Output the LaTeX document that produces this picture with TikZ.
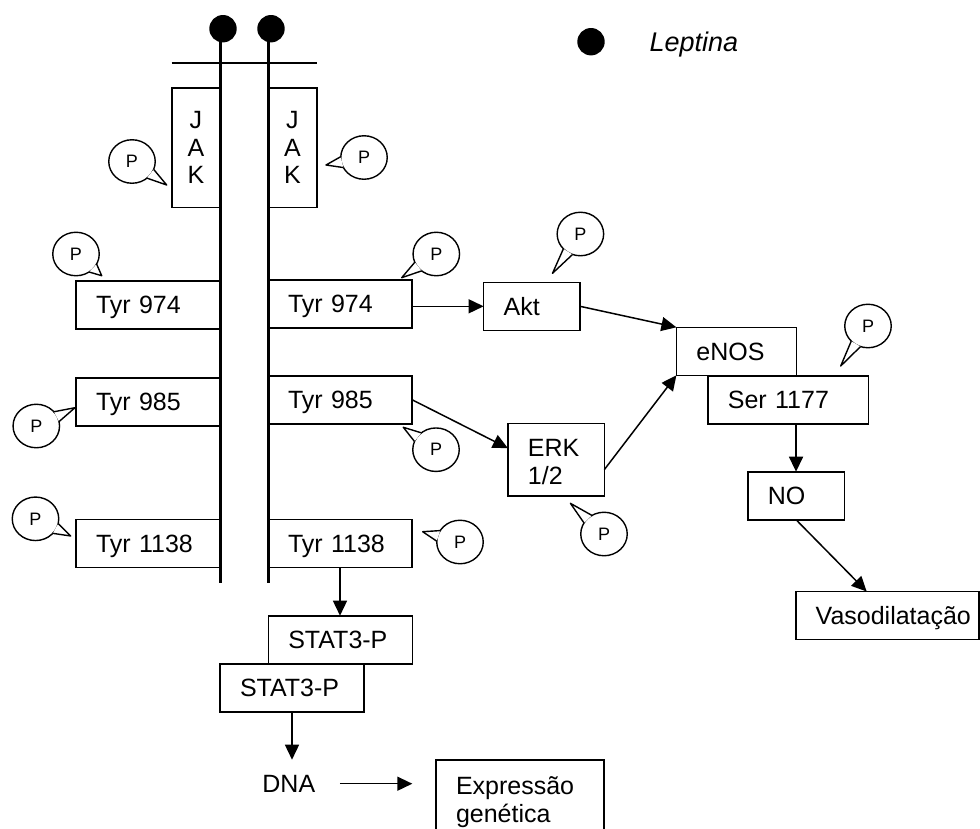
\documentclass[tikz,border=0pt]{standalone}
\usepackage{fontspec}
\setmainfont{Liberation Sans}
\usetikzlibrary{arrows.meta,calc,shapes.geometric}

% speech bubble with a P: name, centre, tip of the tail
\newcommand{\pbub}[3]{%
  \node[pbubble] (#1) at (#2) {P};
  \path let \p1=($(#3)-(#1.center)$), \n1={atan2(\y1,\x1)},
    \n2={\n1+14}, \n3={\n1-14} in
    coordinate (#1-a) at (#1.\n2) coordinate (#1-b) at (#1.\n3);
  \fill[white] (#1-a) -- (#3) -- (#1-b) -- cycle;
  \draw[line width=1.4pt, line join=round] (#1-a) -- (#3) -- (#1-b);}

\begin{document}
\begin{tikzpicture}[x=1pt, y=-1pt,
  box/.style={draw, line width=1.6pt, anchor=north west, inner xsep=20pt,
    inner ysep=0pt, outer sep=0pt, align=left, text depth=0pt,
    minimum height=48pt, font=\fontsize{25}{27.5}\selectfont},
  tyrbox/.style={box, minimum width=144pt, text width=104pt},
  jakbox/.style={draw, line width=1.6pt, anchor=north west, inner sep=0pt,
    outer sep=0pt, align=center, minimum width=48.3pt, minimum height=119.6pt,
    font=\fontsize{25}{27.5}\selectfont},
  pbubble/.style={ellipse, draw, fill=white, line width=1.4pt, inner sep=0pt,
    outer sep=0pt, minimum width=46.5pt, minimum height=43.5pt,
    font=\fontsize{18}{18}\selectfont},
  leptin/.style={circle, fill=black, inner sep=0pt, minimum size=27.4pt},
  membrane/.style={line width=2.2pt},
  arr/.style={line width=1.5pt, -{Triangle[length=15pt,width=14pt]}}]
  \useasboundingbox (0,0) rectangle (980,828);
  \clip (0,0) rectangle (980,828);
  % receptor chains and membrane
  \draw[membrane] (171.7,63.3) -- (316.7,63.3);
  \draw[membrane] (220.5,35) -- (220.5,583.3);
  \draw[membrane] (268.5,35) -- (268.5,583.3);
  \node[leptin] (lepL) at (223,28.7) {};
  \node[leptin] (lepR) at (271,28.7) {};
  % legend
  \node[leptin] (legdot) at (591,41.7) {};
  \node[anchor=base west, inner sep=0pt, font=\fontsize{27}{27}\itshape]
    (legtxt) at (649.3,51.7) {Leptina};
  % JAK
  \node[jakbox] (jakL) at (171.7,87.7) {J\\A\\K};
  \node[jakbox, minimum width=48.7pt] (jakR) at (268,87.7) {J\\A\\K};
  % tyrosines
  \node[tyrbox] (tyrL1) at (76,281) {Tyr 974};
  \node[tyrbox] (tyrR1) at (268,279.7) {Tyr 974};
  \node[tyrbox] (tyrL2) at (76,377.7) {Tyr 985};
  \node[tyrbox] (tyrR2) at (268,375.7) {Tyr 985};
  \node[tyrbox] (tyrL3) at (76,519.3) {Tyr 1138};
  \node[tyrbox] (tyrR3) at (268,519.3) {Tyr 1138};
  % right-hand pathway
  \node[box, minimum width=96.4pt, text width=56.4pt] (akt) at (483.6,282.3) {Akt};
  \node[box, minimum width=96.4pt, text width=56.4pt, minimum height=72.7pt,
    text depth=24.4pt, font=\fontsize{25}{28.7}\selectfont]
    (erk) at (507.9,423.3) {ERK\\1/2};
  \node[box, minimum width=120pt, text width=80pt] (enos) at (676.4,327.3) {eNOS};
  \node[box, minimum width=160.7pt, text width=120.7pt] (ser) at (707.9,375.7) {Ser 1177};
  \node[box, minimum width=96.5pt, text width=56.5pt] (no) at (747.8,471.7) {NO};
  \node[box, minimum width=183.3pt, text width=143.3pt] (vaso) at (795.7,591.5)
    {\mbox{Vasodilatação}};
  % STAT3 and nucleus
  \node[tyrbox] (statA) at (268.3,615.7) {STAT3-P};
  \node[tyrbox] (statB) at (220,663.7) {STAT3-P};
  \node[anchor=base, inner xsep=24.8pt, inner ysep=15.4pt, outer sep=0pt,
    font=\fontsize{25}{27.5}\selectfont] (dna) at (288.8,792.3) {DNA};
  \node[box, minimum height=0pt, inner ysep=17pt, text depth=, minimum width=168pt,
    text width=128pt] (expr) at (436,760) {Expressão\\genética};
  % arrows
  \draw[arr] (tyrR1.east |- akt.west) -- (akt.west);
  \draw[arr] (akt.east) -- (enos.north west);
  \draw[arr] (tyrR2.east) -- ($(erk.west)+(0,-11.5)$);
  \draw[arr] ($(erk.east)+(0,10)$) -- (enos.south west);
  \draw[arr] (no.north |- ser.south) -- (no.north);
  \draw[arr] (no.south) -- ($(vaso.north west)+(71,0)$);
  \draw[arr] (tyrR3.south) -- (tyrR3.south |- statA.north);
  \draw[arr] (statB.south) -- (statB.south |- dna.north);
  \draw[arr] (dna.east) -- ($(expr.west |- dna.east)+(-23.7,0)$);
  % phosphates
  \pbub{pJL}{132,161.5}{166.7,185}
  \pbub{pJR}{364,157.5}{326,165}
  \pbub{pL1}{76,254}{101.7,275.7}
  \pbub{pR1}{436.3,254}{401.7,277.7}
  \pbub{pL2}{36.3,426}{75,407.7}
  \pbub{pR2}{436,449.7}{403.3,427.3}
  \pbub{pL3}{35.5,518.8}{70.7,536}
  \pbub{pR3}{460,542}{422.7,531.7}
  \pbub{pAkt}{580.4,234}{552.5,273.3}
  \pbub{pErk}{604,534}{570.4,503.3}
  \pbub{pEnos}{868,326}{840.7,366}
\end{tikzpicture}
\end{document}
